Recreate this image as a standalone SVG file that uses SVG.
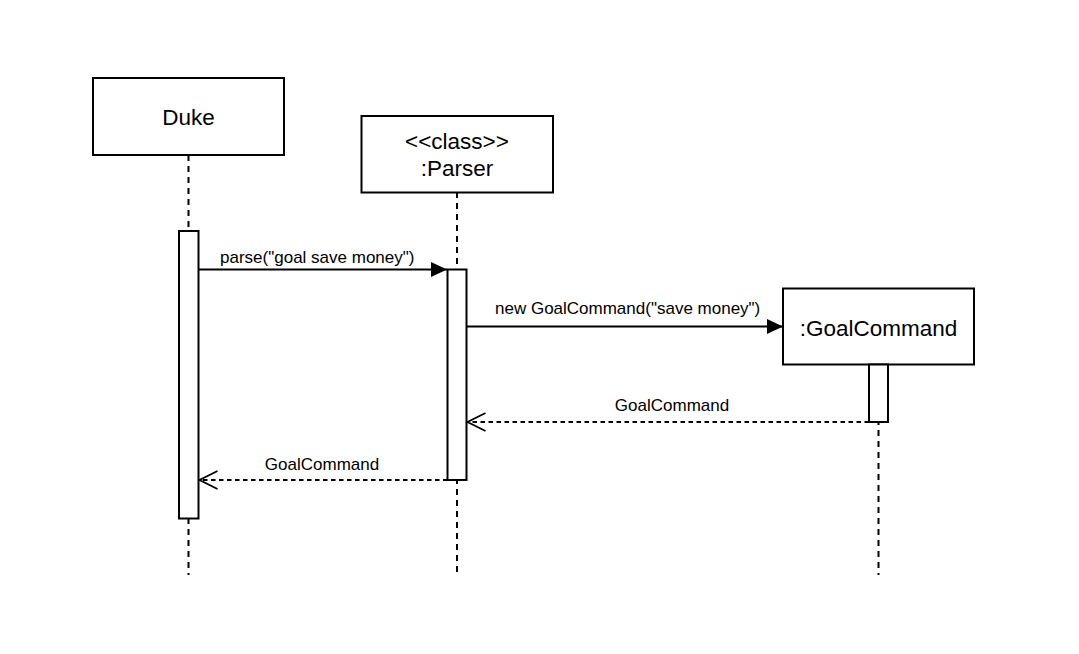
<svg xmlns="http://www.w3.org/2000/svg" width="1079" height="654" viewBox="0 0 1079 654">
<style>
.box{fill:#fff;stroke:#000;stroke-width:2}
.act{fill:#fff;stroke:#000;stroke-width:2}
.life{stroke:#000;stroke-width:2;stroke-dasharray:6 5;fill:none}
.msg{stroke:#000;stroke-width:2;fill:none}
.ret{stroke:#000;stroke-width:1.8;stroke-dasharray:4.5 3.5;fill:none}
.t{font-family:"Liberation Sans",Arial,sans-serif;fill:#000}
.big{font-size:22.5px}
.lbl{font-size:17px}
</style>
<defs>
<marker id="filled" markerUnits="userSpaceOnUse" markerWidth="18" markerHeight="16" refX="16" refY="7.5" orient="auto" overflow="visible"><path d="M0,0 L16,7.5 L0,15 Z" fill="#000"/></marker>
<marker id="open" markerUnits="userSpaceOnUse" markerWidth="20" markerHeight="20" refX="18" refY="9" orient="auto" overflow="visible"><path d="M0,0 L18,9 L0,18" fill="none" stroke="#000" stroke-width="1.8"/></marker>
</defs>
<rect width="1079" height="654" fill="#fff"/>
<g id="lifelines">
<line class="life" x1="188.5" y1="155" x2="188.5" y2="575"/>
<line class="life" x1="457" y1="192" x2="457" y2="575"/>
<line class="life" x1="878.5" y1="364" x2="878.5" y2="575"/>
</g>
<g id="duke">
<rect class="box" x="93" y="78" width="191" height="77"/>
<text class="t big" x="188.5" y="125" text-anchor="middle">Duke</text>
<rect class="act" x="179" y="231" width="19.5" height="287.5"/>
</g>
<g id="parser">
<rect class="box" x="361.5" y="116" width="191.5" height="76.5"/>
<text class="t big" x="457" y="149" text-anchor="middle">&lt;&lt;class&gt;&gt;</text>
<text class="t big" x="457" y="176" text-anchor="middle">:Parser</text>
<rect class="act" x="447.5" y="269.5" width="19" height="210.5"/>
</g>
<g id="goalcommand">
<rect class="box" x="783" y="288.5" width="191" height="76"/>
<text class="t big" x="878.5" y="336" text-anchor="middle">:GoalCommand</text>
<rect class="act" x="869" y="364.5" width="19" height="57.5"/>
</g>
<g id="connectors">
<line class="msg" x1="198.5" y1="269.5" x2="447" y2="269.5" marker-end="url(#filled)"/>
<text class="t lbl" x="220" y="262.5">parse("goal save money")</text>
<line class="msg" x1="466.5" y1="326.5" x2="783" y2="326.5" marker-end="url(#filled)"/>
<text class="t lbl" x="495" y="314">new GoalCommand("save money")</text>
<line class="ret" x1="869" y1="422" x2="467.5" y2="422" marker-end="url(#open)"/>
<text class="t lbl" x="672" y="411" text-anchor="middle">GoalCommand</text>
<line class="ret" x1="447.5" y1="480" x2="199.5" y2="480" marker-end="url(#open)"/>
<text class="t lbl" x="322" y="470" text-anchor="middle">GoalCommand</text>
</g>
</svg>
